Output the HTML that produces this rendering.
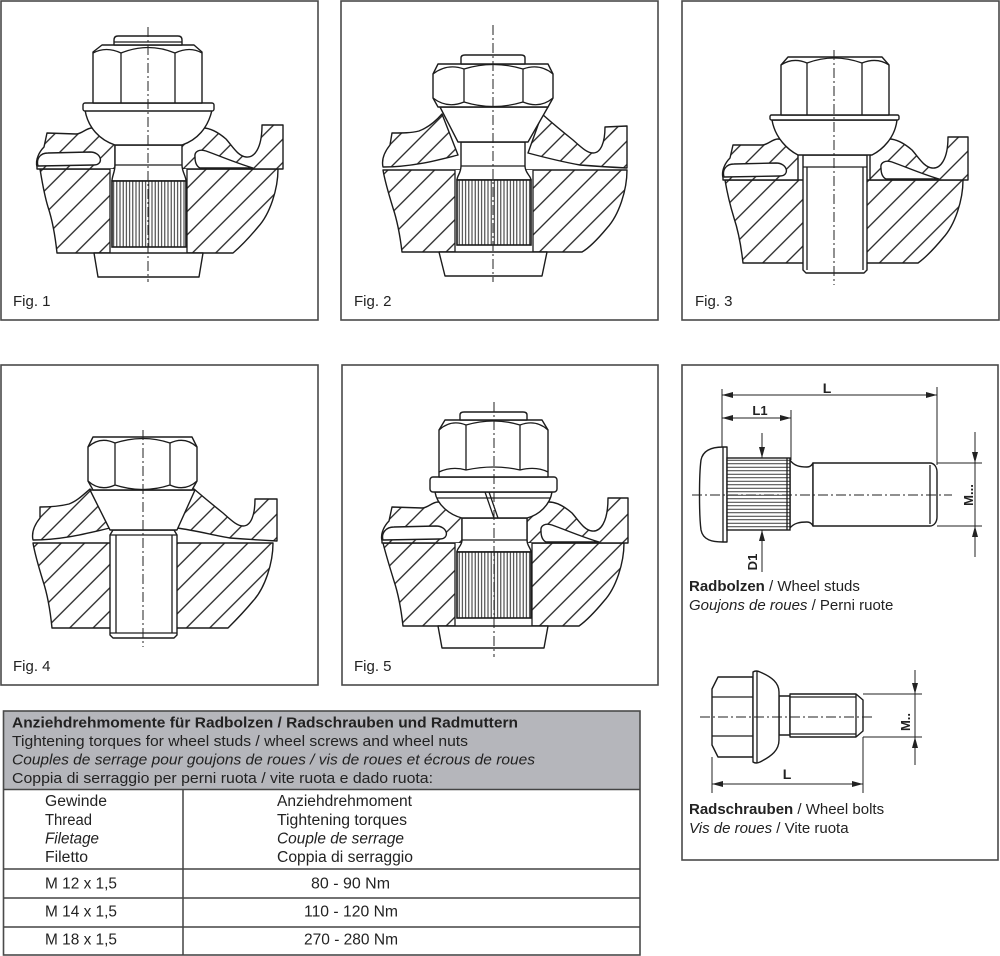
<!DOCTYPE html>
<html><head><meta charset="utf-8"><style>
html,body{margin:0;padding:0;background:#fff;}
svg{display:block;}
.s{fill:#fff;stroke:#1c1c1c;stroke-width:1.4;stroke-linejoin:round;}
.n{fill:none;stroke:#1c1c1c;stroke-width:1.3;}
.h{fill:url(#hatch);stroke:#1c1c1c;stroke-width:1.4;stroke-linejoin:round;}
.k{fill:url(#knurl);stroke:#1c1c1c;stroke-width:1.6;}
.c{fill:none;stroke:#222;stroke-width:1;stroke-dasharray:10 3 2 3;}
.d{fill:none;stroke:#222;stroke-width:1;}
.a{fill:#222;stroke:none;}
.b{fill:none;stroke:#4a4a4a;stroke-width:1.6;}
text{font-family:"Liberation Sans",Arial,sans-serif;fill:#222;}
</style></head><body>
<svg width="1000" height="956" viewBox="0 0 1000 956" xmlns="http://www.w3.org/2000/svg">
<defs>
<pattern id="hatch" patternUnits="userSpaceOnUse" width="16.5" height="16.5" patternTransform="rotate(-45)">
<rect width="16.5" height="16.5" fill="#fff"/>
<line x1="0" y1="8.25" x2="16.5" y2="8.25" stroke="#1c1c1c" stroke-width="1.35"/>
</pattern>
<pattern id="knurl" patternUnits="userSpaceOnUse" width="3.2" height="10">
<rect width="3.2" height="10" fill="#fff"/>
<line x1="1.6" y1="0" x2="1.6" y2="10" stroke="#2a2a2a" stroke-width="1"/>
</pattern>
<pattern id="knurlh" patternUnits="userSpaceOnUse" width="10" height="3.5">
<rect width="10" height="3.5" fill="#fff"/>
<line x1="0" y1="1.75" x2="10" y2="1.75" stroke="#2a2a2a" stroke-width="0.9"/>
</pattern>
</defs>
<rect width="1000" height="956" fill="#fff"/>

<!-- Panel borders -->
<rect class="b" x="1" y="1" width="317" height="319"/>
<rect class="b" x="341" y="1" width="317" height="319"/>
<rect class="b" x="682" y="1" width="317" height="319"/>
<rect class="b" x="1" y="365" width="317" height="320"/>
<rect class="b" x="342" y="365" width="316" height="320"/>
<rect class="b" x="682" y="365" width="316" height="495"/>

<!-- ================= FIG 1 ================= -->
<g transform="translate(148,169)">
<path class="h" d="M-108,0 L130,0 C130,20 122,45 110,58 C100,70 92,78 85,84 L-91,84 C-93,65 -96,50 -100,38 C-104,25 -106,12 -108,0 Z"/>
<path class="h" d="M-111,-2 C-113,-10 -108,-18 -104,-22 L-101,-36 L-72,-35 C-66,-35 -62,-41 -56,-41 C-48,-41 -40,-32 -33,-24 L-33,0 L-111,0 Z"/>
<path class="s" d="M-110,-3 C-112,-10 -108,-16 -100,-16 L-58,-17 C-46,-17 -44,-4 -54,-4 Z"/>
<path class="h" d="M33,-24 C40,-32 48,-41 55,-41 C63,-41 71,-36 78,-30 C85,-22 90,-13 98,-12 C106,-11 114,-20 114,-44 L135,-44 L135,0 L33,0 Z"/>
<path class="s" d="M47,-12 C46,-18 52,-20 58,-18 C72,-13 88,-6 105,-1 L52,-1 C48,-3 47,-7 47,-12 Z"/>
</g>
<rect x="110" y="169" width="77" height="84" fill="#fff"/>
<path class="n" d="M110,169 V253 M187,169 V253"/>
<path class="s" d="M94,253 L203,253 L199,277 L98,277 Z"/>
<path class="s" d="M115,145 L115,165 C115,172 112,176 112,181 L186,181 C186,176 182,172 182,165 L182,145 Z"/>
<path class="n" d="M115,165 H182"/>
<rect class="k" x="112" y="181" width="74" height="66"/>
<path class="s" d="M85,110 C88,128 100,140 115,145 L182,145 C197,140 208,128 212,110 Z"/>
<rect class="s" x="83" y="103" width="131" height="8" rx="2"/>
<path class="s" d="M93,103 L93,52 L102,45 L194,45 L202,52 L202,103 Z"/>
<path class="n" d="M93,53 Q106,46 121,53 Q148,42 175,53 Q190,46 202,53 M121,53 V103 M175,53 V103"/>
<path class="s" d="M114,45 L114,40 Q114,36 118,36 L178,36 Q182,36 182,40 L182,45 Z"/>
<path class="n" d="M114,42 H182"/>
<line class="c" x1="148" y1="27" x2="148" y2="282"/>
<text x="13" y="306" font-size="15">Fig. 1</text>

<!-- ================= FIG 2 ================= -->
<g transform="translate(493,170)">
<path class="h" d="M-110,0 L134,0 C134,20 126,45 114,58 C104,70 96,78 89,82 L-91,82 C-93,65 -96,50 -100,38 C-104,25 -108,12 -110,0 Z"/>
<path class="h" d="M-110,-3 C-112,-12 -107,-20 -103,-25 L-101,-37 C-90,-37 -82,-37 -74,-39 C-66,-42 -58,-48 -51,-56 L-35,-15 C-55,-10 -80,-3 -110,-3 Z"/>
<path class="h" d="M49,-56 C58,-48 70,-38 80,-30 C88,-23 94,-17 100,-17 C108,-17 112,-28 112,-43 L134,-44 L134,-2 C115,-3 100,-4 87,-5 C70,-8 50,-13 35,-17 Z"/>
</g>
<rect x="455" y="170" width="78" height="82" fill="#fff"/>
<path class="n" d="M455,170 V252 M533,170 V252"/>
<path class="s" d="M439,252 L547,252 L542,276 L445,276 Z"/>
<path class="s" d="M461,142 L461,166 C461,173 457,176 457,180 L531,180 C531,176 525,173 525,166 L525,142 Z"/>
<path class="n" d="M461,166 H525"/>
<rect class="k" x="457" y="180" width="74" height="65"/>
<path class="s" d="M440,107 L458,142 L528,142 L548,107 Z"/>
<path class="s" d="M433,74 L438,64 L548,64 L553,74 L553,98 L548,107 L438,107 L433,98 Z"/>
<path class="n" d="M433,74 Q447,63 464,69 Q493,60 523,69 Q540,63 553,74 M433,98 Q447,109 464,102 Q493,111 523,102 Q540,109 553,98 M464,69 V102 M523,69 V102"/>
<path class="s" d="M461,64 L461,58 Q461,55 465,55 L521,55 Q525,55 525,58 L525,64 Z"/>
<line class="c" x1="493" y1="25" x2="493" y2="282"/>
<text x="354" y="306" font-size="15">Fig. 2</text>

<!-- ================= FIG 3 ================= -->
<g transform="translate(834,180)">
<path class="h" d="M-109,0 L129,0 C129,20 121,45 109,58 C99,70 91,78 84,83 L-91,83 C-93,65 -96,50 -100,38 C-104,25 -107,12 -109,0 Z"/>
<path class="h" d="M-111,-2 C-113,-10 -108,-18 -104,-22 L-101,-35 L-72,-35 C-66,-35 -62,-41 -56,-41 C-48,-41 -42,-32 -36,-25 L-36,0 L-111,0 Z"/>
<path class="s" d="M-110,-3 C-112,-10 -108,-16 -100,-16 L-58,-17 C-46,-17 -44,-4 -54,-4 Z"/>
<path class="h" d="M36,-25 C42,-32 48,-41 55,-41 C63,-41 71,-36 78,-30 C85,-22 90,-13 98,-12 C106,-11 114,-20 114,-43 L134,-43 L134,0 L36,0 Z"/>
<path class="s" d="M47,-12 C46,-18 52,-20 58,-18 C72,-13 88,-6 105,-1 L52,-1 C48,-3 47,-7 47,-12 Z"/>
</g>
<path class="s" d="M803,155 L803,270 L806,273 L864,273 L867,270 L867,155 Z"/>
<path class="n" d="M803,167 H867 M807,167 V270 M863,167 V270"/>
<path class="s" d="M772,120 C775,138 788,150 798,155 L872,155 C882,150 895,138 897,120 Z"/>
<rect class="s" x="770" y="115" width="129" height="5" rx="1.5"/>
<path class="s" d="M781,115 L781,65 L788,57 L882,57 L889,65 L889,115 Z"/>
<path class="n" d="M781,65 Q793,57 807,63 Q834,53 862,63 Q877,57 889,65 M807,63 V115 M862,63 V115"/>
<line class="c" x1="834" y1="50" x2="834" y2="285"/>
<text x="695" y="306" font-size="15">Fig. 3</text>

<!-- ================= FIG 4 ================= -->
<g transform="translate(143,543)">
<path class="h" d="M-110,0 L130,0 C130,20 122,45 110,58 C100,70 92,78 85,85 L-91,85 C-93,65 -96,50 -100,38 C-104,25 -108,12 -110,0 Z"/>
<path class="h" d="M-110,-3 C-112,-12 -107,-20 -103,-25 L-103,-36 C-90,-36 -82,-37 -74,-39 C-66,-42 -60,-48 -53,-54 L-33,-15 C-55,-10 -80,-3 -110,-3 Z"/>
<path class="h" d="M51,-54 C58,-48 70,-38 80,-30 C88,-23 94,-17 100,-17 C108,-17 112,-28 112,-44 L134,-44 L134,-2 C115,-3 100,-4 87,-5 C70,-8 50,-13 34,-15 Z"/>
</g>
<path class="s" d="M113,530 L174,530 L177,535 L177,635 L174,638 L113,638 L110,635 L110,535 Z"/>
<path class="n" d="M110,535 H177 M110,633 H177 M116,535 V633 M172,535 V633"/>
<path class="s" d="M90,490 L110,530 L177,530 L195,490 Z"/>
<path class="s" d="M88,447 L93,437 L192,437 L197,447 L197,481 L192,490 L93,490 L88,481 Z"/>
<path class="n" d="M88,447 Q100,436 115,443 Q143,434 170,443 Q185,436 197,447 M88,481 Q100,492 115,485 Q143,494 170,485 Q185,492 197,481 M115,443 V485 M170,443 V485"/>
<line class="c" x1="143" y1="430" x2="143" y2="647"/>
<text x="13" y="671" font-size="15">Fig. 4</text>

<!-- ================= FIG 5 ================= -->
<g transform="translate(494,543)">
<path class="h" d="M-111,0 L130,0 C130,20 122,45 110,58 C100,70 92,78 85,83 L-91,83 C-93,65 -96,50 -100,38 C-104,25 -108,12 -111,0 Z"/>
<path class="h" d="M-112,-2 C-114,-10 -109,-18 -105,-22 L-102,-36 L-72,-35 C-66,-35 -62,-41 -56,-41 C-48,-41 -40,-32 -32,-25 L-32,0 L-112,0 Z"/>
<path class="s" d="M-111,-3 C-113,-10 -108,-16 -100,-16 L-58,-17 C-46,-17 -44,-4 -54,-4 Z"/>
<path class="h" d="M33,-25 C40,-32 48,-41 55,-41 C63,-41 71,-36 78,-30 C85,-22 90,-13 98,-12 C106,-11 114,-20 114,-45 L134,-45 L134,0 L33,0 Z"/>
<path class="s" d="M47,-12 C46,-18 52,-20 58,-18 C72,-13 88,-6 105,-1 L52,-1 C48,-3 47,-7 47,-12 Z"/>
</g>
<rect x="455" y="543" width="77" height="83" fill="#fff"/>
<path class="n" d="M455,543 V626 M532,543 V626"/>
<path class="s" d="M438,626 L548,626 L544,648 L442,648 Z"/>
<path class="s" d="M462,518 L462,540 C462,546 457,548 457,552 L531,552 C531,548 527,546 527,540 L527,518 Z"/>
<path class="n" d="M462,540 H527"/>
<rect class="k" x="457" y="552" width="74" height="66"/>
<path class="s" d="M435,492 C437,505 450,515 462,518 L527,518 C539,515 550,505 552,492 Z"/>
<path class="n" d="M437,498 H550 M485,492 L494,518 M489,492 L498,518"/>
<rect class="s" x="430" y="477" width="127" height="15" rx="3"/>
<path class="s" d="M439,477 L439,430 L445,420 L542,420 L548,430 L548,477 Z"/>
<path class="n" d="M439,430 Q451,419 466,425 Q494,417 520,425 Q536,419 548,430 M439,472 Q452,466 466,470 Q494,464 520,470 Q536,466 548,472 M466,425 V470 M520,425 V470"/>
<path class="s" d="M460,420 L460,415 Q460,412 464,412 L523,412 Q527,412 527,415 L527,420 Z"/>
<line class="c" x1="494" y1="402" x2="494" y2="657"/>
<text x="354" y="671" font-size="15">Fig. 5</text>

<!-- ================= FIG 6 (Wheel stud) ================= -->
<path class="d" d="M722,389 V447 M937,387 V465 M791,410 V460"/>
<path class="d" d="M722,395 H937 M722,418 H791"/>
<polygon class="a" points="722,395 733,392 733,398"/>
<polygon class="a" points="937,395 926,392 926,398"/>
<polygon class="a" points="722,418 733,415 733,421"/>
<polygon class="a" points="791,418 780,415 780,421"/>
<path class="d" d="M762,433 V458 M762,530 V572"/>
<polygon class="a" points="762,458 759,447 765,447"/>
<polygon class="a" points="762,530 759,541 765,541"/>
<path class="d" d="M937,463 H982 M937,526 H982 M975,432 V557"/>
<polygon class="a" points="975,463 972,452 978,452"/>
<polygon class="a" points="975,526 972,537 978,537"/>
<path class="s" d="M723,447 L727,447 L727,542 L723,542 C712,542 703,540 701,530 C699,515 699,475 701,460 C703,450 712,447 723,447 Z"/>
<path class="n" d="M723,447 V542"/>
<path class="s" d="M790,460 C794,466 800,467 807,467 C810,467 812,465 813,463 L813,526 C812,524 810,522 807,522 C800,522 794,523 790,528 Z"/>
<rect fill="url(#knurlh)" stroke="#1c1c1c" stroke-width="1.4" x="727" y="458" width="63" height="72"/>
<path class="n" d="M787,458 V530"/>
<path class="s" d="M813,463 L930,463 C934,463 937,467 937,472 L937,517 C937,522 934,526 930,526 L813,526 Z"/>
<path class="n" d="M930,465 V524"/>
<line class="c" x1="692" y1="495" x2="952" y2="495"/>
<text x="827" y="393" font-size="14" font-weight="bold" text-anchor="middle">L</text>
<text x="760" y="415" font-size="13" font-weight="bold" text-anchor="middle">L1</text>
<text transform="translate(757,562) rotate(-90)" font-size="13" font-weight="bold" text-anchor="middle">D1</text>
<text transform="translate(973,495) rotate(-90)" font-size="13" font-weight="bold" text-anchor="middle">M...</text>
<text x="689" y="591" font-size="15"><tspan font-weight="bold">Radbolzen</tspan> / Wheel studs</text>
<text x="689" y="610" font-size="15"><tspan font-style="italic">Goujons de roues</tspan> / Perni ruote</text>

<!-- ================= FIG 7 (Wheel bolt) ================= -->
<path class="d" d="M863,694 H922 M863,737 H922 M915,670 V765"/>
<polygon class="a" points="915,694 912,683 918,683"/>
<polygon class="a" points="915,737 912,748 918,748"/>
<path class="d" d="M712,757 V793 M863,737 V793 M712,784 H863"/>
<polygon class="a" points="712,784 723,781 723,787"/>
<polygon class="a" points="863,784 852,781 852,787"/>
<path class="s" d="M718,677 L753,677 L753,757 L718,757 L712,745 L712,689 Z"/>
<path class="n" d="M712,697 H753 M712,736 H753"/>
<path class="s" d="M779,696 H790 V735 H779 Z"/>
<path class="s" d="M753,672 Q756,670 760,672 C772,677 779,683 779,692 L779,740 C779,750 772,756 760,762 Q756,764 753,762 Z"/>
<path class="n" d="M757,671 V763"/>
<path class="s" d="M790,694 L856,694 L863,700 L863,731 L856,737 L790,737 Z"/>
<path class="n" d="M790,697 H856 M790,734 H856 M856,694 V737"/>
<line class="c" x1="700" y1="717" x2="873" y2="717"/>
<text transform="translate(910,722) rotate(-90)" font-size="13" font-weight="bold" text-anchor="middle">M..</text>
<text x="787" y="779" font-size="14" font-weight="bold" text-anchor="middle">L</text>
<text x="689" y="814" font-size="15"><tspan font-weight="bold">Radschrauben</tspan> / Wheel bolts</text>
<text x="689" y="833" font-size="15"><tspan font-style="italic">Vis de roues</tspan> / Vite ruota</text>

<!-- ================= TABLE ================= -->
<rect x="3.5" y="711" width="636.5" height="78" fill="#b5b6bb"/>
<rect class="b" x="3.5" y="711" width="636.5" height="244"/>
<path stroke="#444" stroke-width="1.5" fill="none" d="M3.5,789.5 H640 M3.5,869 H640 M3.5,898 H640 M3.5,927 H640 M183,789.5 V955"/>
<text x="12" y="727.5" font-size="15" font-weight="bold" textLength="506" lengthAdjust="spacingAndGlyphs">Anziehdrehmomente für Radbolzen / Radschrauben und Radmuttern</text>
<text x="12" y="746" font-size="15" textLength="456" lengthAdjust="spacingAndGlyphs">Tightening torques for wheel studs / wheel screws and wheel nuts</text>
<text x="12" y="764.5" font-size="15" font-style="italic" textLength="523" lengthAdjust="spacingAndGlyphs">Couples de serrage pour goujons de roues / vis de roues et écrous de roues</text>
<text x="12" y="783" font-size="15" textLength="421" lengthAdjust="spacingAndGlyphs">Coppia di serraggio per perni ruota / vite ruota e dado ruota:</text>

<text x="45" y="806" font-size="15.5" textLength="62" lengthAdjust="spacingAndGlyphs">Gewinde</text>
<text x="45" y="825" font-size="15.5" textLength="47" lengthAdjust="spacingAndGlyphs">Thread</text>
<text x="45" y="843.5" font-size="15.5" font-style="italic" textLength="54" lengthAdjust="spacingAndGlyphs">Filetage</text>
<text x="45" y="862" font-size="15.5" textLength="43" lengthAdjust="spacingAndGlyphs">Filetto</text>

<text x="277" y="806" font-size="15.5" textLength="135" lengthAdjust="spacingAndGlyphs">Anziehdrehmoment</text>
<text x="277" y="825" font-size="15.5" textLength="130" lengthAdjust="spacingAndGlyphs">Tightening torques</text>
<text x="277" y="843.5" font-size="15.5" font-style="italic" textLength="127" lengthAdjust="spacingAndGlyphs">Couple de serrage</text>
<text x="277" y="862" font-size="15.5" textLength="136" lengthAdjust="spacingAndGlyphs">Coppia di serraggio</text>

<text x="45" y="888.5" font-size="15.5" textLength="72" lengthAdjust="spacingAndGlyphs">M 12 x 1,5</text>
<text x="45" y="916.5" font-size="15.5" textLength="72" lengthAdjust="spacingAndGlyphs">M 14 x 1,5</text>
<text x="45" y="944.5" font-size="15.5" textLength="72" lengthAdjust="spacingAndGlyphs">M 18 x 1,5</text>
<text x="311" y="888.5" font-size="15.5" textLength="79" lengthAdjust="spacingAndGlyphs">80 - 90 Nm</text>
<text x="304" y="916.5" font-size="15.5" textLength="94" lengthAdjust="spacingAndGlyphs">110 - 120 Nm</text>
<text x="304" y="944.5" font-size="15.5" textLength="94" lengthAdjust="spacingAndGlyphs">270 - 280 Nm</text>
</svg>
</body></html>
